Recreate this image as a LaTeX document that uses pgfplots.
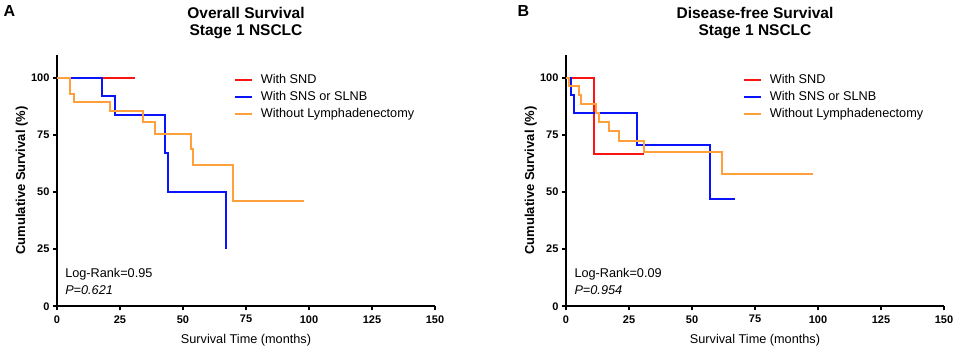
\documentclass[border=0pt]{standalone}
\usepackage{fontspec}
\setmainfont{Liberation Sans}
\usepackage{pgfplots}
\pgfplotsset{compat=1.18}

\definecolor{sndred}{RGB}{250,20,20}
\definecolor{snsblue}{RGB}{10,20,250}
\definecolor{noorange}{RGB}{255,160,60}

\pgfplotsset{
  km/.style={
    scale only axis, width=378pt, height=251.5pt,
    xmin=0, xmax=150, ymin=0, ymax=110,
    axis lines=left,
    axis line style={-, line width=1.8pt, black},
    xtick={0,25,...,150}, ytick={0,25,50,75,100},
    tick align=outside, major tick length=4pt,
    tick style={line width=1.8pt, black},
    /pgf/number format/assume math mode=true,
    ticklabel style={font=\bfseries\fontsize{11}{13}\selectfont},
    xticklabel style={yshift=-1.5pt},
    xlabel={Survival Time (months)},
    ylabel={Cumulative Survival (\%)},
    xlabel style={font=\fontsize{12.7}{15}\selectfont, at={(axis description cs:0.5,-0.135)}, anchor=center},
    ylabel style={font=\bfseries\fontsize{13}{15}\selectfont, at={(axis description cs:-0.093,0.5)}, anchor=center},
    title style={font=\bfseries\fontsize{15.5}{17.5}\selectfont, align=center, inner sep=0pt,
                 at={(axis description cs:0.5,1.039)}, anchor=south},
    legend style={at={(axis cs:71,91.6)}, anchor=west, xshift=-2pt, draw=none, fill=none,
                  inner sep=0pt, font=\fontsize{12.7}{15}\selectfont, row sep=2.5pt},
    legend cell align=left,
    legend image code/.code={\draw[#1, line width=2pt] (0pt,0pt) -- (17pt,0pt); \path (22.7pt,0pt);},
    every axis plot/.append style={line width=2pt, const plot, line join=miter},
  }
}

\begin{document}
\begin{tikzpicture}
\path[use as bounding box] (0,0) rectangle (958pt,350pt);
\node[font=\bfseries\fontsize{16}{18}\selectfont] at (9.5pt,339pt) {A};
\node[font=\bfseries\fontsize{16}{18}\selectfont] at (523.5pt,339pt) {B};

% A: overall survival
\begin{axis}[km, at={(57pt,43.7pt)}, anchor=south west,
  title={Overall Survival\\Stage 1 NSCLC}]
\addplot[sndred] coordinates {(0,100) (31,100)};
\addplot[snsblue] coordinates {(0,100) (18,92.1) (23,83.8) (43,66.9) (44,50.2) (67,25.2)};
\addplot[noorange] coordinates {(0,100) (5,92.7) (6.7,89.2) (21,85.2) (34,80.5) (39,75.5) (53,68.6) (54,61.8) (70,46.2) (98,46.2)};
\legend{With SND, With SNS or SLNB, Without Lymphadenectomy}
\node[anchor=west, inner sep=0pt, font=\fontsize{12.7}{15}\selectfont] at (axis cs:3.2,14) {Log-Rank=0.95};
\node[anchor=west, inner sep=0pt, font=\itshape\fontsize{12.7}{15}\selectfont] at (axis cs:3.2,7.1) {P=0.621};
\end{axis}

% B: disease-free survival
\begin{axis}[km, at={(566pt,43.7pt)}, anchor=south west,
  title={Disease-free Survival\\Stage 1 NSCLC}]
\addplot[sndred] coordinates {(0,100) (11,66.6) (31,66.6)};
\addplot[snsblue] coordinates {(0,100) (2,92.3) (3,84.5) (28,70.4) (57,46.9) (67,46.9)};
\addplot[noorange] coordinates {(0,100) (1,96.3) (5,92.2) (6,88.5) (12,84.6) (13,80.7) (17,76.6) (21,72.1) (31,67.3) (62,57.7) (98,57.7)};
\legend{With SND, With SNS or SLNB, Without Lymphadenectomy}
\node[anchor=west, inner sep=0pt, font=\fontsize{12.7}{15}\selectfont] at (axis cs:3.3,14) {Log-Rank=0.09};
\node[anchor=west, inner sep=0pt, font=\itshape\fontsize{12.7}{15}\selectfont] at (axis cs:3.3,7.1) {P=0.954};
\end{axis}
\end{tikzpicture}
\end{document}
